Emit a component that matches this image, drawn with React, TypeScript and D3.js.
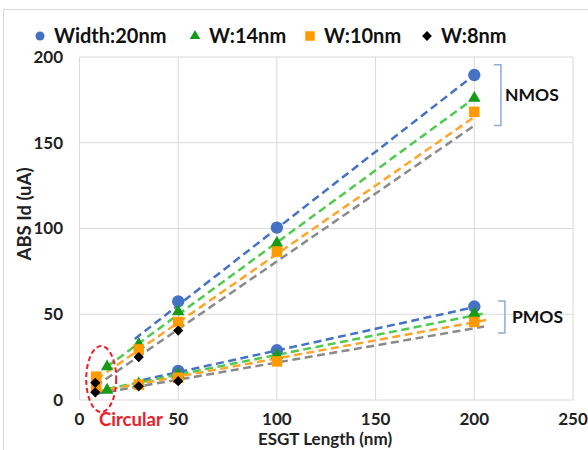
import * as d3 from 'd3';

// legend labels (series order)
const seriesNames = ['Width:20nm', 'W:14nm', 'W:10nm', 'W:8nm'];
const markerColors = ['#4472C4', '#179B17', '#FF9A00', '#000000'];
const lineColors = ['#4472C4', '#4ECB4E', '#FFA52A', '#8A8A8A'];
const markerKinds = ['circle', 'triangle', 'square', 'diamond'];

// measured points [ESGT length (nm), |Id| (uA)]
const nmosW20 = [[50, 57.5], [100, 100.5], [200, 189.5]];
const nmosW14 = [[14, 19.4], [30, 32.5], [50, 51.5], [100, 91.5], [200, 176]];
const nmosW10 = [[8.5, 13.6], [30, 29.5], [50, 45.5], [100, 86.5], [200, 168]];
const nmosW8 = [[8, 10], [30, 25], [50, 40.5]];

const pmosW20 = [[50, 17], [100, 29], [200, 54.5]];
const pmosW14 = [[14, 5.8], [30, 9.5], [50, 15], [100, 26], [200, 50.5]];
const pmosW10 = [[8.5, 8], [30, 9], [50, 13], [100, 22.5], [200, 45.5]];
const pmosW8 = [[8, 4.5], [30, 8], [50, 11]];

// dashed trend lines, start and end [x, y]
const nmosFits = [
  [[28, 35.6], [200, 189.5]],
  [[14, 19.5], [200, 176]],
  [[8.5, 12], [200, 165]],
  [[8, 8], [200, 160]],
];
const pmosFits = [
  [[32, 11.7], [205, 55.4]],
  [[14, 6.5], [205, 50.5]],
  [[9, 5], [206, 46.6]],
  [[8, 3.5], [205, 42.8]],
];

const xTicks = [0, 50, 100, 150, 200, 250];
const yTicks = [0, 50, 100, 150, 200];

const W = 588;
const H = 450;
const FONT = 'Lato, "Liberation Sans", Arial, sans-serif';

const x = d3.scaleLinear().domain([0, 250]).range([79.5, 573]);
const y = d3.scaleLinear().domain([0, 200]).range([400, 57]);

const line = d3.line<number[]>().x(d => x(d[0])).y(d => y(d[1]));

const symbolPath = (kind: string, big: boolean) => {
  if (kind === 'circle') return d3.symbol(d3.symbolCircle, big ? 120 : 64)()!;
  if (kind === 'triangle') return d3.symbol(d3.symbolTriangle, big ? 68 : 48)()!;
  if (kind === 'square') return d3.symbol(d3.symbolSquare, big ? 110 : 90)()!;
  return d3.symbol(d3.symbolSquare, big ? 52 : 48)()!;
};

const Marker = ({ kind, color, cx, cy, big = true }: any) => (
  <path
    d={symbolPath(kind, big)}
    fill={color}
    transform={`translate(${cx},${cy})${kind === 'diamond' ? ' rotate(45)' : ''}`}
  />
);

export default function App() {
  const nmos = [nmosW20, nmosW14, nmosW10, nmosW8];
  const pmos = [pmosW20, pmosW14, pmosW10, pmosW8];
  const legendX = [40, 195, 310, 427];

  return (
    <svg
      width={W}
      height={H}
      style={{ position: 'absolute', left: 0, top: 0, background: '#fff', fontFamily: FONT }}
    >
      <rect x={3.5} y={9.5} width={W} height={H} fill="#fff" stroke="#D9D9D9" />

      {/* grid */}
      {xTicks.map(t => (
        <line key={'gx' + t} x1={x(t)} x2={x(t)} y1={y(0)} y2={y(200)} stroke="#D9D9D9" />
      ))}
      {yTicks.map(t => (
        <line key={'gy' + t} x1={x(0)} x2={x(250)} y1={y(t)} y2={y(t)} stroke="#D9D9D9" />
      ))}

      {/* tick labels */}
      {yTicks.map(t => (
        <text key={'ty' + t} x={63} y={y(t)} dy="0.35em" textAnchor="end" fontSize={17} fontWeight="bold" fill="#222">
          {t}
        </text>
      ))}
      {xTicks.map(t => (
        <text key={'tx' + t} x={x(t)} y={419} dy="0.35em" textAnchor="middle" fontSize={17} fontWeight="bold" fill="#222">
          {t}
        </text>
      ))}

      <text x={325} y={439} dy="0.35em" textAnchor="middle" fontSize={17} fontWeight="bold" fill="#222">
        ESGT Length (nm)
      </text>
      <text
        transform={`translate(25,214) rotate(-90)`}
        dy="0.35em"
        textAnchor="middle"
        fontSize={18.5}
        fontWeight="bold"
        fill="#222"
      >
        ABS Id (uA)
      </text>

      {/* trend lines */}
      {[...nmosFits, ...pmosFits].map((f, i) => (
        <path
          key={'fit' + i}
          d={line(f)!}
          fill="none"
          stroke={lineColors[i % 4]}
          strokeWidth={2.5}
          strokeDasharray="8,4.5"
        />
      ))}

      {/* markers */}
      {[0, 1, 2, 3].map(s => (
        <g key={'s' + s}>
          {[...nmos[s], ...pmos[s]].map((p, j) => (
            <Marker key={j} kind={markerKinds[s]} color={markerColors[s]} cx={x(p[0])} cy={y(p[1])} />
          ))}
        </g>
      ))}

      {/* circular highlight */}
      <ellipse
        cx={x(11)}
        cy={y(12.2)}
        rx={15}
        ry={33}
        fill="none"
        stroke="#E8202A"
        strokeWidth={2}
        strokeDasharray="5,3"
      />
      <text x={99} y={420} dy="0.35em" fontSize={18.5} fontWeight="bold" fill="#E8202A">
        Circular
      </text>

      {/* NMOS / PMOS brackets */}
      <path
        d={`M${x(210)},${y(195.5)} H${x(213.5)} V${y(160)} H${x(210)}`}
        fill="none"
        stroke="#8FAADC"
        strokeWidth={1.5}
      />
      <text x={505} y={y(178)} dy="0.35em" fontSize={17.5} fontWeight="bold" fill="#111">
        NMOS
      </text>
      <path
        d={`M${x(212)},${y(57.7)} H${x(215.5)} V${y(39)} H${x(212)}`}
        fill="none"
        stroke="#8FAADC"
        strokeWidth={1.5}
      />
      <text x={512} y={y(48.5)} dy="0.35em" fontSize={17.5} fontWeight="bold" fill="#111">
        PMOS
      </text>

      {/* legend */}
      {seriesNames.map((n, i) => (
        <g key={'lg' + i}>
          <Marker kind={markerKinds[i]} color={markerColors[i]} cx={legendX[i]} cy={36} big={false} />
          <text x={legendX[i] + 14} y={36} dy="0.35em" fontSize={20} fontWeight="bold" fill="#111">
            {n}
          </text>
        </g>
      ))}
    </svg>
  );
}
